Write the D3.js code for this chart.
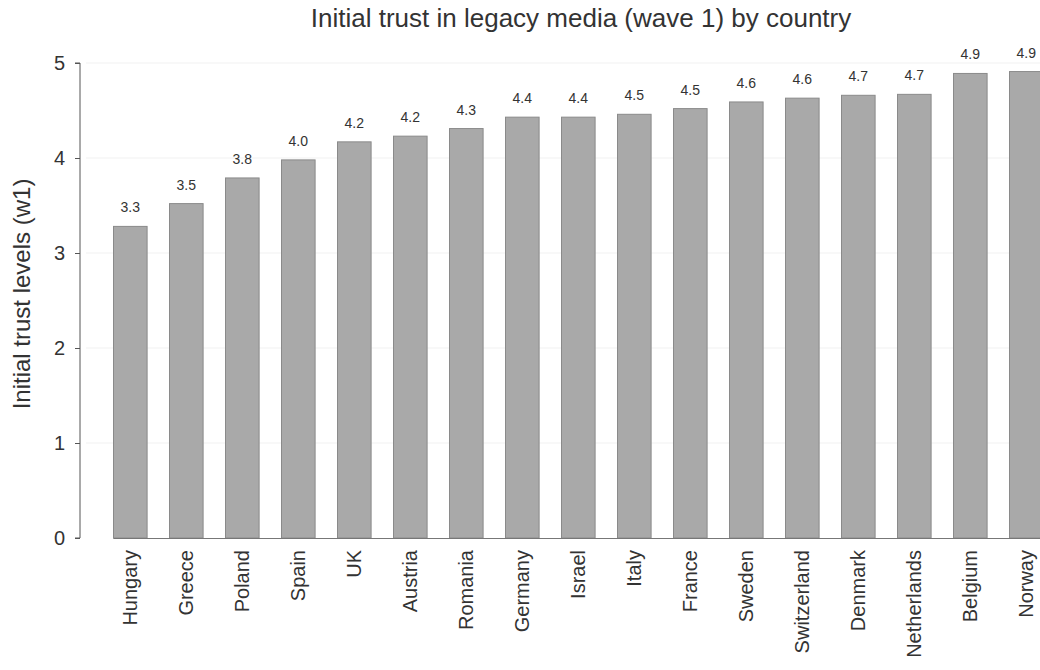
<!DOCTYPE html>
<html>
<head>
<meta charset="utf-8">
<script src="https://cdn.jsdelivr.net/npm/d3@7"></script>
<style>
  html, body { margin: 0; padding: 0; background: #ffffff; }
  svg { display: block; font-family: "Liberation Sans", Arial, sans-serif; }
</style>
</head>
<body>
<svg id="chart" width="1040" height="670"></svg>
<script>
// Countries, ordered from lowest to highest initial trust
const countries = ["Hungary", "Greece", "Poland", "Spain", "UK", "Austria", "Romania",
  "Germany", "Israel", "Italy", "France", "Sweden", "Switzerland", "Denmark",
  "Netherlands", "Belgium", "Norway"];

// Mean initial trust in legacy media, wave 1
const trust = [3.28, 3.52, 3.79, 3.98, 4.17, 4.23, 4.31, 4.43, 4.43, 4.46,
  4.52, 4.59, 4.63, 4.66, 4.67, 4.89, 4.91];

const yTicks = [0, 1, 2, 3, 4, 5];

const titleText = "Initial trust in legacy media (wave 1) by country";
const yTitle = "Initial trust levels (w1)";

const rows = countries.map((c, i) => ({ country: c, value: trust[i] }));

const svg = d3.select("#chart");

const x = d3.scaleBand()
  .domain(countries)
  .range([102.3, 1054.3])
  .paddingInner(0.4)
  .paddingOuter(0.2);

const y = d3.scaleLinear().domain([0, 5]).range([538, 63]);

// Faint horizontal grid
svg.append("g")
  .selectAll("line")
  .data(yTicks.filter(d => d > 0))
  .join("line")
  .attr("x1", 86).attr("x2", 1040)
  .attr("y1", d => y(d)).attr("y2", d => y(d))
  .attr("stroke", "#f1f1f1")
  .attr("stroke-width", 1);

// Bars
svg.append("g")
  .selectAll("rect")
  .data(rows)
  .join("rect")
  .attr("x", d => x(d.country))
  .attr("y", d => y(d.value))
  .attr("width", x.bandwidth())
  .attr("height", d => y(0) - y(d.value))
  .attr("fill", "#a9a9a9")
  .attr("stroke", "#8a8a8a")
  .attr("stroke-width", 1);

// Value labels above bars
const fmt = d3.format(".1f");
svg.append("g")
  .selectAll("text")
  .data(rows)
  .join("text")
  .attr("x", d => x(d.country) + x.bandwidth() / 2)
  .attr("y", d => y(d.value) - 14)
  .attr("text-anchor", "middle")
  .attr("font-size", 14)
  .attr("fill", "#333")
  .text(d => fmt(d.value));

// Y axis
const yAxis = d3.axisLeft(y).tickValues(yTicks).tickSize(5).tickPadding(10).tickFormat(d3.format("d"));
const gy = svg.append("g").attr("transform", "translate(80,0)").call(yAxis);
gy.select(".domain").attr("stroke", "#555").attr("d", `M-5,${y(5)}H0V${y(0)}H-5`);
gy.selectAll(".tick line").attr("stroke", "#555");
gy.selectAll(".tick text").attr("font-size", 20).attr("fill", "#333").attr("font-family", "Liberation Sans, Arial, sans-serif");

// X axis baseline under the bars
const xAxis = d3.axisBottom(x).tickSize(0).tickPadding(0);
const gx = svg.append("g").attr("transform", `translate(0,${y(0)})`).call(xAxis);
gx.select(".domain").attr("stroke", "#777").attr("d", `M${x(countries[0])},0.5H1040`);
gx.selectAll(".tick text")
  .attr("font-size", 20)
  .attr("fill", "#333")
  .attr("font-family", "Liberation Sans, Arial, sans-serif")
  .attr("transform", "rotate(-90)")
  .attr("text-anchor", "end")
  .attr("x", -12)
  .attr("y", 0)
  .attr("dy", "0.35em");

// Title
svg.append("text")
  .attr("x", 581).attr("y", 27)
  .attr("text-anchor", "middle")
  .attr("font-size", 26)
  .attr("fill", "#333")
  .text(titleText);

// Y axis title
svg.append("text")
  .attr("transform", "translate(30,294) rotate(-90)")
  .attr("text-anchor", "middle")
  .attr("font-size", 24)
  .attr("fill", "#333")
  .text(yTitle);
</script>
</body>
</html>
